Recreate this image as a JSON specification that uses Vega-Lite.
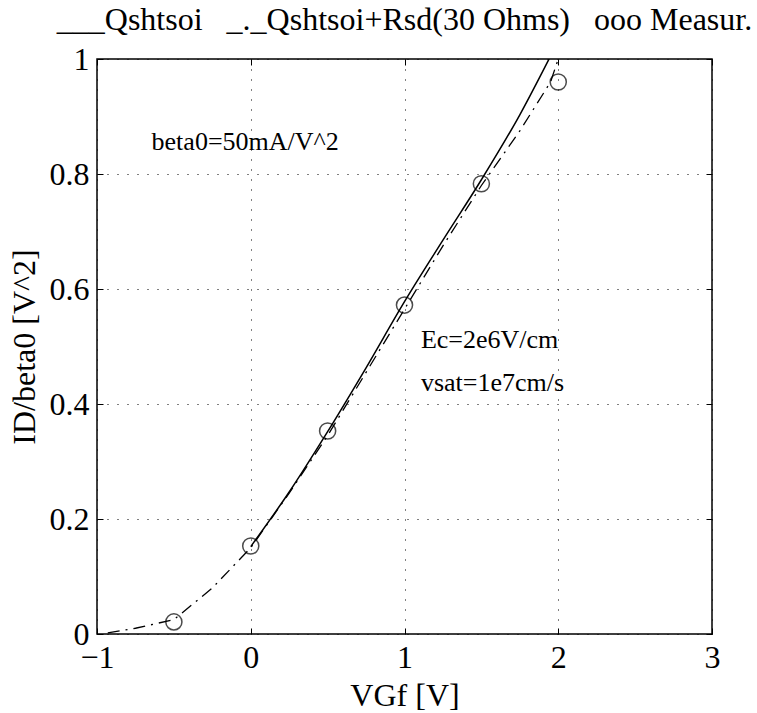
{
  "$schema": "https://vega.github.io/schema/vega-lite/v6.json",
  "width": 615,
  "height": 575,
  "autosize": "none",
  "padding": {"left": 97, "top": 59, "right": 45, "bottom": 79},
  "background": "white",
  "config": {
    "font": "Liberation Serif",
    "view": {"stroke": "black", "strokeWidth": 1.5},
    "axis": {
      "labelFont": "Times New Roman, Liberation Serif, serif",
      "titleFont": "Times New Roman, Liberation Serif, serif",
      "labelFontSize": 32,
      "titleFontSize": 32,
      "titleFontWeight": "normal",
      "labelColor": "black",
      "titleColor": "black",
      "labelFlush": false,
      "domain": false,
      "tickColor": "black",
      "tickSize": -6,
      "tickWidth": 1,
      "grid": false,
      "gridColor": "black",
      "gridOpacity": 1,
      "gridDash": [1, 9],
      "gridWidth": 1
    }
  },
  "resolve": {"axis": {"x": "independent", "y": "independent"}},
  "title": {
    "text": "___Qshtsoi\u00a0\u00a0\u00a0_._Qshtsoi+Rsd(30 Ohms)\u00a0\u00a0\u00a0ooo Measur.",
    "font": "Times New Roman, Liberation Serif, serif",
    "fontSize": 32,
    "fontWeight": "normal",
    "color": "black",
    "anchor": "middle",
    "offset": 6
  },
  "datasets": {
    "solid": [
      {"vgf": 0.0, "id": 0.152},
      {"vgf": 0.25, "id": 0.247},
      {"vgf": 0.5, "id": 0.352},
      {"vgf": 0.75, "id": 0.463},
      {"vgf": 1.0, "id": 0.578},
      {"vgf": 1.25, "id": 0.685},
      {"vgf": 1.5, "id": 0.79},
      {"vgf": 1.75, "id": 0.903},
      {"vgf": 1.94, "id": 1.0}
    ],
    "dashdot": [
      {"vgf": -0.93, "id": 0.002},
      {"vgf": -0.75, "id": 0.01},
      {"vgf": -0.5, "id": 0.025},
      {"vgf": -0.25, "id": 0.08},
      {"vgf": 0.0, "id": 0.15},
      {"vgf": 0.25, "id": 0.245},
      {"vgf": 0.5, "id": 0.345},
      {"vgf": 0.75, "id": 0.455},
      {"vgf": 1.0, "id": 0.565},
      {"vgf": 1.25, "id": 0.675},
      {"vgf": 1.5, "id": 0.78},
      {"vgf": 1.75, "id": 0.875},
      {"vgf": 1.95, "id": 0.96},
      {"vgf": 2.0, "id": 1.0}
    ],
    "meas": [
      {"vgf": -0.5, "id": 0.021},
      {"vgf": 0.0, "id": 0.153},
      {"vgf": 0.5, "id": 0.353},
      {"vgf": 1.0, "id": 0.572},
      {"vgf": 1.5, "id": 0.783},
      {"vgf": 2.0, "id": 0.96}
    ],
    "notes": [
      {"vgf": -0.645, "id": 0.856, "label": "beta0=50mA/V^2"},
      {"vgf": 1.107, "id": 0.511, "label": "Ec=2e6V/cm"},
      {"vgf": 1.107, "id": 0.436, "label": "vsat=1e7cm/s"}
    ]
  },
  "layer": [
    {
      "data": {"name": "solid"},
      "mark": {"type": "line", "color": "black", "strokeWidth": 1.5, "clip": true, "interpolate": "monotone"},
      "encoding": {
        "x": {
          "field": "vgf", "type": "quantitative",
          "scale": {"domain": [-1, 3], "nice": false, "zero": false},
          "axis": {"values": [-1, 0, 1, 2, 3], "format": "~g", "title": "VGf [V]", "labelPadding": 14, "titlePadding": 7, "grid": true}
        },
        "y": {
          "field": "id", "type": "quantitative",
          "scale": {"domain": [0, 1], "nice": false},
          "axis": {"values": [0, 0.2, 0.4, 0.6, 0.8, 1], "format": "~g", "title": "ID/beta0 [V^2]", "labelPadding": 14, "titlePadding": 8, "grid": true}
        }
      }
    },
    {
      "data": {"name": "dashdot"},
      "mark": {"type": "line", "color": "black", "strokeWidth": 1.3, "strokeDash": [12, 6, 2, 6], "clip": true},
      "encoding": {
        "x": {"field": "vgf", "type": "quantitative", "axis": {"orient": "top", "values": [-1, 0, 1, 2, 3], "labels": false, "title": null}},
        "y": {"field": "id", "type": "quantitative", "axis": {"orient": "right", "values": [0, 0.2, 0.4, 0.6, 0.8, 1], "labels": false, "title": null}}
      }
    },
    {
      "data": {"name": "meas"},
      "mark": {"type": "point", "shape": "circle", "filled": false, "color": "black", "strokeWidth": 1.5, "size": 260},
      "encoding": {
        "x": {"field": "vgf", "type": "quantitative", "axis": null},
        "y": {"field": "id", "type": "quantitative", "axis": null}
      }
    },
    {
      "data": {"name": "notes"},
      "mark": {"type": "text", "align": "left", "baseline": "middle", "font": "Times New Roman, Liberation Serif, serif", "fontSize": 26, "color": "black"},
      "encoding": {
        "x": {"field": "vgf", "type": "quantitative", "axis": null},
        "y": {"field": "id", "type": "quantitative", "axis": null},
        "text": {"field": "label"}
      }
    }
  ]
}
